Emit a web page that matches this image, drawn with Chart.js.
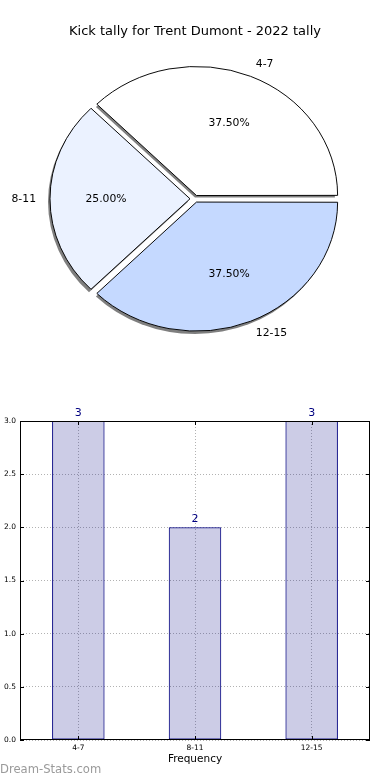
<!DOCTYPE html>
<html>
<head>
<meta charset="utf-8">
<title>Kick tally for Trent Dumont - 2022 tally</title>
<script src="https://cdn.jsdelivr.net/npm/chart.js@4.4.1/dist/chart.umd.min.js"></script>
<style>
    html, body { margin: 0; padding: 0; background: #fff; }
    body { width: 390px; height: 780px; position: relative; overflow: hidden; font-family: "DejaVu Sans", sans-serif; }
    #pieBox { position: absolute; left: 0; top: 0; width: 390px; height: 348px; }
    #barBox { position: absolute; left: 0; top: 400px; width: 390px; height: 380px; }
    #credit { position: absolute; left: 0; top: 762px; font-size: 11.6px; color: #9a9a9a; }
</style>
</head>
<body>
<div id="pieBox"><canvas id="pieChart"></canvas></div>
<div id="barBox"><canvas id="barChart"></canvas></div>
<div id="credit">Dream-Stats.com</div>

<script>
// Data
const chartTitle = 'Kick tally for Trent Dumont - 2022 tally';
const categories = ['4-7', '8-11', '12-15'];
const kickCounts = [3, 2, 3];
const yTicks = [0, 0.5, 1, 1.5, 2, 2.5, 3];

// Look
const sliceColours = ['#ffffff', '#ebf2ff', '#c5d9ff'];
const sliceOffsets = [15.5, 20, 15.5];
const PIE_SQUASH = 128 / 140;   // the original pie is a little flatter than a circle

Chart.defaults.font.family = '"DejaVu Sans", sans-serif';
Chart.defaults.color = '#000';

// pie is drawn clockwise from 3 o'clock, so the order is reversed
const pieLabels = categories.slice().reverse();
const pieValues = kickCounts.slice().reverse();
const pieColours = sliceColours.slice().reverse();
const pieOffsets = sliceOffsets.slice().reverse();

// where Chart.js really puts an exploded wedge's tip
function wedgeCentre(arc) {
    const mid = (arc.startAngle + arc.endAngle) / 2;
    const off = (arc.options.offset || 0) / 4;
    const fix = 1 - Math.sin(Math.min(Math.PI, arc.circumference));
    const shift = off * (1 + fix);
    return { mid, x: arc.x + Math.cos(mid) * shift, y: arc.y + Math.sin(mid) * shift };
}

// squash + drop shadow for the wedges, then labels like matplotlib (0.6 and 1.1 radius)
const pieLook = {
    id: 'pieLook',
    beforeDatasetsDraw(chart) {
        const ctx = chart.ctx;
        const arcs = chart.getDatasetMeta(0).data;
        const first = arcs[0];

        // shadow pass, under the wedges
        ctx.save();
        ctx.translate(-2, 3);
        ctx.translate(first.x, first.y);
        ctx.scale(1, PIE_SQUASH);
        ctx.translate(-first.x, -first.y);
        ctx.fillStyle = 'rgba(0, 0, 0, 0.5)';
        arcs.forEach(arc => {
            const c = wedgeCentre(arc);
            ctx.beginPath();
            ctx.moveTo(c.x, c.y);
            ctx.arc(c.x, c.y, arc.outerRadius, arc.startAngle, arc.endAngle);
            ctx.closePath();
            ctx.fill();
        });
        ctx.restore();

        ctx.save();
        ctx.translate(first.x, first.y);
        ctx.scale(1, PIE_SQUASH);
        ctx.translate(-first.x, -first.y);
    },
    afterDatasetsDraw(chart) {
        const ctx = chart.ctx;
        ctx.restore();
        const meta = chart.getDatasetMeta(0);
        const total = pieValues.reduce((a, b) => a + b, 0);
        ctx.save();
        ctx.fillStyle = '#000';
        ctx.font = '10.8px "DejaVu Sans", sans-serif';
        ctx.textBaseline = 'middle';
        meta.data.forEach((arc, i) => {
            const c = wedgeCentre(arc);
            const cos = Math.cos(c.mid);
            const sin = Math.sin(c.mid) * PIE_SQUASH;
            const cx = arc.x + (c.x - arc.x);
            const cy = arc.y + (c.y - arc.y) * PIE_SQUASH;
            const R = arc.outerRadius;

            ctx.textAlign = 'center';
            ctx.fillText((pieValues[i] / total * 100).toFixed(2) + '%', cx + 0.6 * R * cos, cy + 0.6 * R * sin);

            ctx.textAlign = cos > 0 ? 'left' : 'right';
            ctx.fillText(pieLabels[i], cx + 1.1 * R * cos, cy + 1.1 * R * sin);
        });
        ctx.restore();
    }
};

new Chart(document.getElementById('pieChart'), {
    type: 'pie',
    data: {
        labels: pieLabels,
        datasets: [{
            data: pieValues,
            backgroundColor: pieColours,
            borderColor: '#000',
            borderWidth: 1,
            offset: pieOffsets
        }]
    },
    options: {
        responsive: true,
        maintainAspectRatio: false,
        animation: false,
        rotation: 90,
        radius: 140,
        plugins: {
            legend: { display: false },
            tooltip: { enabled: false },
            title: {
                display: true,
                text: chartTitle,
                font: { size: 13, weight: 'normal' },
                color: '#000',
                padding: { top: 24, bottom: 10 }
            }
        }
    },
    plugins: [pieLook]
});

// frame, inward ticks and value labels for the bar chart
const barLook = {
    id: 'barLook',
    afterDatasetsDraw(chart) {
        const ctx = chart.ctx;
        const a = chart.chartArea;
        const y = chart.scales.y;
        const x = chart.scales.x;
        ctx.save();
        ctx.strokeStyle = '#000';
        ctx.lineWidth = 1;
        ctx.strokeRect(Math.round(a.left) + 0.5, Math.round(a.top) + 0.5,
                       Math.round(a.right - a.left) - 1, Math.round(a.bottom - a.top) - 1);

        ctx.beginPath();
        yTicks.forEach(v => {
            const py = Math.round(y.getPixelForValue(v)) + 0.5;
            ctx.moveTo(a.left, py); ctx.lineTo(a.left + 4, py);
            ctx.moveTo(a.right, py); ctx.lineTo(a.right - 4, py);
        });
        categories.forEach((c, i) => {
            const px = Math.round(x.getPixelForValue(i)) + 0.5;
            ctx.moveTo(px, a.bottom); ctx.lineTo(px, a.bottom - 4);
            ctx.moveTo(px, a.top); ctx.lineTo(px, a.top + 4);
        });
        ctx.stroke();

        ctx.fillStyle = '#000080';
        ctx.font = '11px "DejaVu Sans", sans-serif';
        ctx.textAlign = 'center';
        ctx.textBaseline = 'alphabetic';
        chart.getDatasetMeta(0).data.forEach((bar, i) => {
            ctx.fillText(String(kickCounts[i]), bar.x, bar.y - 5);
        });
        ctx.restore();
    }
};

new Chart(document.getElementById('barChart'), {
    type: 'bar',
    data: {
        labels: categories,
        datasets: [{
            data: kickCounts,
            backgroundColor: 'rgba(0, 0, 128, 0.2)',
            borderColor: '#000080',
            borderWidth: 1,
            borderSkipped: false,
            barPercentage: 0.45,
            categoryPercentage: 1
        }]
    },
    options: {
        responsive: true,
        maintainAspectRatio: false,
        animation: false,
        layout: { padding: { top: 21, right: 20, left: 0, bottom: 14 } },
        plugins: {
            legend: { display: false },
            tooltip: { enabled: false }
        },
        scales: {
            x: {
                afterFit: s => { s.height = 26; },
                grid: { offset: false, color: 'rgba(0, 0, 0, 0.3)', drawTicks: false },
                border: { display: false, dash: [1, 2] },
                ticks: { font: { size: 7.5 }, color: '#000', padding: 4 },
                title: {
                    display: true,
                    text: 'Frequency',
                    font: { size: 10.5 },
                    color: '#000',
                    padding: { top: 2, bottom: 0 }
                }
            },
            y: {
                min: 0,
                max: 3,
                afterFit: s => { s.width = 20; },
                afterBuildTicks: s => { s.ticks = yTicks.map(v => ({ value: v })); },
                grid: { color: 'rgba(0, 0, 0, 0.3)', drawTicks: false },
                border: { display: false, dash: [1, 2] },
                ticks: {
                    font: { size: 7.5 },
                    color: '#000',
                    padding: 4,
                    callback: v => Number(v).toFixed(1)
                }
            }
        }
    },
    plugins: [barLook]
});
</script>
</body>
</html>
